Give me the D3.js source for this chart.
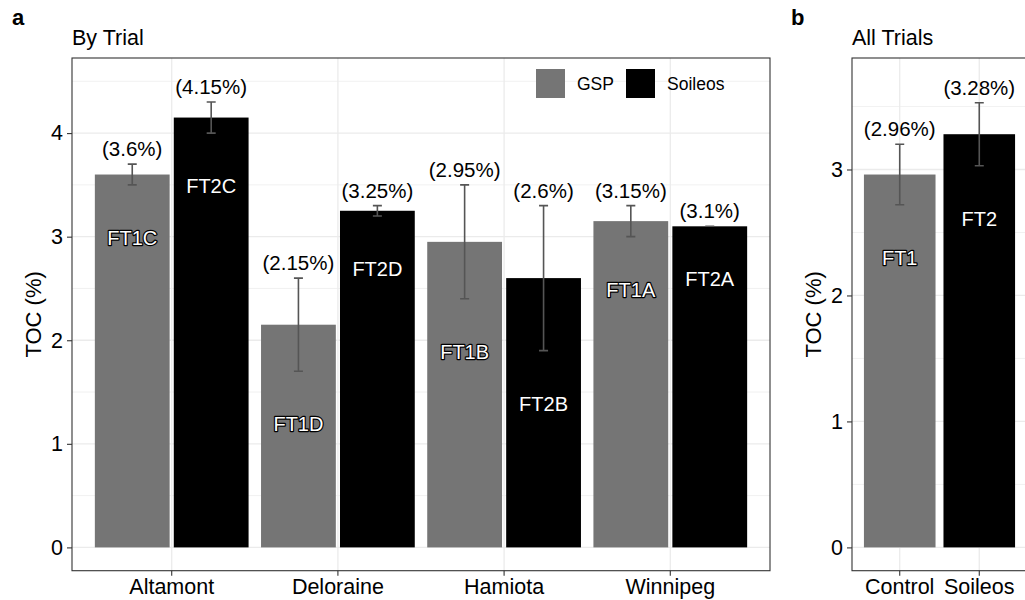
<!DOCTYPE html>
<html>
<head>
<meta charset="utf-8">
<script src="https://cdn.jsdelivr.net/npm/d3@7"></script>
<style>
  body { margin: 0; background: #fff; }
  text { font-family: "Liberation Sans", Arial, Helvetica, sans-serif; }
</style>
</head>
<body>
<script>
// panel a: by trial
const trials = ['Altamont', 'Deloraine', 'Hamiota', 'Winnipeg']
const groups = ['GSP', 'Soileos']
const gspToc = [3.6, 2.15, 2.95, 3.15]
const gspLow = [3.5, 1.7, 2.4, 3.0]
const gspHigh = [3.7, 2.6, 3.5, 3.3]
const gspIds = ['FT1C', 'FT1D', 'FT1B', 'FT1A']
const soileosToc = [4.15, 3.25, 2.6, 3.1]
const soileosLow = [4.0, 3.2, 1.9, 3.1]
const soileosHigh = [4.3, 3.3, 3.3, 3.1]
const soileosIds = ['FT2C', 'FT2D', 'FT2B', 'FT2A']
const ticksA = [0, 1, 2, 3, 4]
const minorA = [0.5, 1.5, 2.5, 3.5, 4.5]

// panel b: all trials
const treatments = ['Control', 'Soileos']
const allToc = [2.96, 3.28]
const allLow = [2.72, 3.03]
const allHigh = [3.20, 3.53]
const allIds = ['FT1', 'FT2']
const ticksB = [0, 1, 2, 3]
const minorB = [0.5, 1.5, 2.5, 3.5]

const width = 1025, height = 600
const fill = d3.scaleOrdinal().domain(groups).range(['#757575', '#000000'])

const svg = d3.select('body').append('svg')
    .attr('width', width)
    .attr('height', height)

const rowsA = []
trials.forEach(function(t, i) {
  rowsA.push({cat: t, group: 'GSP', toc: gspToc[i], lo: gspLow[i], hi: gspHigh[i], id: gspIds[i]})
  rowsA.push({cat: t, group: 'Soileos', toc: soileosToc[i], lo: soileosLow[i], hi: soileosHigh[i], id: soileosIds[i]})
})
const rowsB = treatments.map(function(t, i) {
  return {cat: t, group: groups[i], toc: allToc[i], lo: allLow[i], hi: allHigh[i], id: allIds[i]}
})

const plotTop = 58, plotBottom = 570.7

// --- panel a scales
const xA = d3.scaleBand().domain(trials).range([72, 770]).paddingInner(0).paddingOuter(0.1)
const dodge = d3.scaleBand().domain(groups)
    .range([-0.475 * xA.step(), 0.475 * xA.step()])
    .paddingInner(0.0526).paddingOuter(0.0263)
const yA = d3.scaleLinear().domain([-0.225, 4.725]).range([plotBottom, plotTop])

// --- panel b scales
const xB = d3.scaleBand().domain(treatments).range([852, 1027]).paddingInner(0.1).paddingOuter(0.15)
const yB = d3.scaleLinear().domain([-0.185, 3.885]).range([plotBottom, plotTop])

function frame(g, x, y, major, minor, left, right) {
  g.append('g').selectAll('line')
    .data(minor)
    .enter().append('line')
      .attr('x1', left).attr('x2', right)
      .attr('y1', d => y(d)).attr('y2', d => y(d))
      .attr('stroke', '#ebebeb').attr('stroke-width', 0.7)
  g.append('g').selectAll('line')
    .data(major)
    .enter().append('line')
      .attr('x1', left).attr('x2', right)
      .attr('y1', d => y(d)).attr('y2', d => y(d))
      .attr('stroke', '#ebebeb').attr('stroke-width', 1.3)
  g.append('g').selectAll('line')
    .data(x.domain())
    .enter().append('line')
      .attr('x1', d => x(d) + x.bandwidth() / 2).attr('x2', d => x(d) + x.bandwidth() / 2)
      .attr('y1', plotTop).attr('y2', plotBottom)
      .attr('stroke', '#ebebeb').attr('stroke-width', 1.3)
}

function axes(g, x, y, major, left, right) {
  const ya = g.append('g')
      .attr('transform', 'translate(' + left + ',0)')
      .call(d3.axisLeft(y).tickValues(major).tickSize(5).tickPadding(4).tickFormat(d3.format('d')))
  const xa = g.append('g')
      .attr('transform', 'translate(0,' + plotBottom + ')')
      .call(d3.axisBottom(x).tickSize(5).tickPadding(3))
  ;[ya, xa].forEach(function(a) {
    a.select('.domain').remove()
    a.selectAll('line').attr('stroke', '#333').attr('stroke-width', 1.1)
    a.selectAll('text').attr('fill', '#000').style('font-size', '21.5px')
  })
  g.append('rect')
      .attr('x', left).attr('y', plotTop)
      .attr('width', right - left).attr('height', plotBottom - plotTop)
      .attr('fill', 'none').attr('stroke', '#333').attr('stroke-width', 1.1)
}

function bars(g, rows, x, y, bx, bw) {
  const item = g.append('g').selectAll('g')
    .data(rows)
    .enter().append('g')

  item.append('rect')
      .attr('x', d => bx(d) - bw / 2)
      .attr('y', d => y(d.toc))
      .attr('width', bw)
      .attr('height', d => y(0) - y(d.toc))
      .attr('fill', d => fill(d.group))

  // error bars
  item.append('path')
      .attr('d', d => 'M' + (bx(d) - 4.5) + ',' + y(d.hi) + 'H' + (bx(d) + 4.5) +
        'M' + bx(d) + ',' + y(d.hi) + 'V' + y(d.lo) +
        'M' + (bx(d) - 4.5) + ',' + y(d.lo) + 'H' + (bx(d) + 4.5))
      .attr('stroke', '#555').attr('stroke-width', 1.6).attr('fill', 'none')

  item.append('text')
      .attr('x', d => bx(d))
      .attr('y', d => y(d.hi) - 8)
      .attr('text-anchor', 'middle')
      .style('font-size', '20.5px')
      .attr('fill', '#000')
      .text(d => '(' + d.toc + '%)')

  item.append('text')
      .attr('x', d => bx(d))
      .attr('y', d => y(d.lo) + 60)
      .attr('text-anchor', 'middle')
      .style('font-size', '20px')
      .attr('fill', '#fff')
      .attr('stroke', d => d.group === 'GSP' ? '#000' : 'none')
      .attr('stroke-width', 2.4)
      .attr('paint-order', 'stroke')
      .attr('stroke-linejoin', 'round')
      .text(d => d.id)
}

// panel a
const ga = svg.append('g')
frame(ga, xA, yA, ticksA, minorA, 72, 770)
bars(ga, rowsA, xA, yA, d => xA(d.cat) + xA.step() / 2 + dodge(d.group) + dodge.bandwidth() / 2, dodge.bandwidth())
axes(ga, xA, yA, ticksA, 72, 770)

// legend
const legend = ga.append('g').selectAll('g')
  .data(groups)
  .enter().append('g')
    .attr('transform', (d, i) => 'translate(' + (536 + i * 90) + ',69)')
legend.append('rect')
    .attr('width', 29).attr('height', 29)
    .attr('fill', d => fill(d))
legend.append('text')
    .attr('x', 41).attr('y', 21)
    .style('font-size', '17.5px')
    .text(d => d)

// panel b
const gb = svg.append('g')
frame(gb, xB, yB, ticksB, minorB, 852, 1027)
bars(gb, rowsB, xB, yB, d => xB(d.cat) + xB.bandwidth() / 2, xB.bandwidth())
axes(gb, xB, yB, ticksB, 852, 1027)

// titles and labels
svg.append('text').attr('x', 12).attr('y', 25)
    .style('font-size', '22px').style('font-weight', 'bold').text('a')
svg.append('text').attr('x', 791).attr('y', 25)
    .style('font-size', '22px').style('font-weight', 'bold').text('b')
svg.append('text').attr('x', 72).attr('y', 45)
    .style('font-size', '21.5px').text('By Trial')
svg.append('text').attr('x', 852).attr('y', 45)
    .style('font-size', '21.5px').text('All Trials')

;[41, 821].forEach(function(x) {
  svg.append('text')
      .attr('transform', 'translate(' + x + ',' + ((plotTop + plotBottom) / 2) + ') rotate(-90)')
      .attr('text-anchor', 'middle')
      .style('font-size', '22px')
      .text('TOC (%)')
})
</script>
</body>
</html>
